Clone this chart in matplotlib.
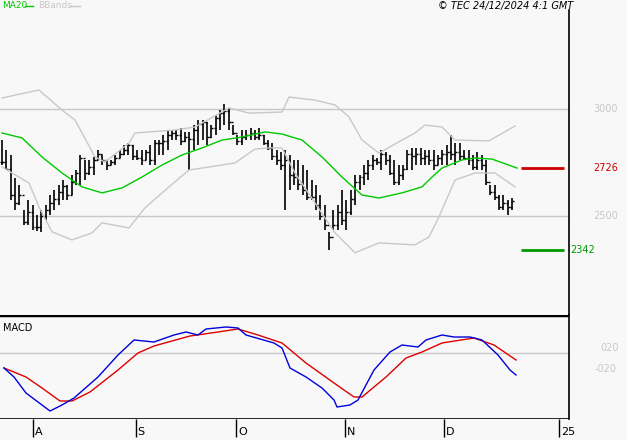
import numpy as np
import matplotlib
matplotlib.use("Agg")
import matplotlib.pyplot as plt
from matplotlib.lines import Line2D
from matplotlib.transforms import blended_transform_factory as btf

# ---- data ----
high = [2855,2809,2785,2678,2645,2528,2575,2552,2505,2528,2552,2598,2622,2645,2668,2645,2692,2715,2785,2762,
        2762,2776,2809,2785,2762,2762,2785,2809,2832,2841,2832,2809,2809,2809,2832,2855,2855,2879,2902,2902,
        2902,2911,2893,2893,2925,2949,2949,2939,2925,2972,2995,3023,3005,2925,2879,2902,2902,2911,2902,2911,
        2879,2855,2841,2809,2799,2809,2785,2762,2762,2738,2715,2668,2645,2598,2552,2426,2528,2552,2622,2575,
        2622,2692,2692,2738,2762,2785,2771,2809,2799,2785,2762,2738,2738,2809,2818,2818,2818,2809,2809,2809,
        2785,2809,2832,2879,2841,2841,2809,2809,2785,2799,2785,2762,2645,2645,2598,2598,2575,2584]
low = [2738,2715,2575,2528,2552,2458,2458,2435,2430,2426,2482,2505,2528,2552,2575,2575,2598,2645,2645,2668,
       2692,2692,2762,2738,2715,2738,2738,2771,2785,2785,2762,2762,2738,2762,2738,2738,2785,2785,2809,2855,
       2855,2832,2846,2715,2809,2832,2855,2832,2865,2879,2902,2925,2902,2879,2832,2832,2855,2855,2855,2855,
       2832,2809,2762,2738,2715,2528,2622,2645,2622,2598,2575,2575,2528,2482,2435,2342,2435,2435,2458,2435,
       2505,2552,2622,2645,2668,2715,2738,2715,2738,2692,2645,2645,2668,2715,2715,2738,2738,2738,2738,2715,
       2738,2738,2738,2762,2738,2762,2762,2738,2715,2715,2715,2645,2598,2575,2528,2528,2505,2528]
close = [2750,2720,2600,2560,2600,2470,2520,2450,2450,2500,2530,2560,2580,2610,2640,2600,2660,2700,2770,2700,
         2730,2760,2790,2760,2740,2750,2770,2790,2810,2830,2780,2770,2760,2800,2760,2840,2840,2850,2880,2890,
         2880,2850,2870,2860,2900,2930,2940,2870,2910,2960,2980,2990,2940,2890,2850,2870,2880,2890,2870,2880,
         2840,2820,2780,2760,2740,2760,2690,2680,2650,2620,2590,2590,2550,2500,2460,2400,2460,2520,2480,2520,
         2580,2660,2680,2700,2740,2760,2750,2790,2760,2700,2660,2690,2720,2790,2780,2790,2770,2780,2760,2740,
         2770,2790,2800,2790,2800,2780,2770,2760,2730,2760,2740,2660,2610,2590,2540,2560,2540,2570]

BAR_PX = 4.36
ma_px = [0,20,40,60,80,100,120,140,160,180,200,220,240,263,280,300,320,340,360,377,400,420,430,440,460,473,490,515]
ma20 = [2888,2865,2776,2701,2636,2608,2631,2682,2738,2785,2818,2855,2869,2893,2883,2855,2776,2682,2598,2584,
        2608,2636,2682,2724,2762,2771,2766,2724]
up_px = [0,13,37,60,73,93,103,127,133,173,193,227,247,280,287,313,333,347,360,377,400,413,423,440,453,487,513]
upper = [3051,3065,3089,2995,2949,2776,2752,2841,2888,2902,2916,3005,2981,2986,3056,3042,3019,2963,2855,2794,
         2855,2888,2925,2916,2855,2851,2921]
lo_px = [0,27,37,50,70,90,100,127,143,167,187,207,233,253,267,280,293,313,333,353,377,413,427,437,453,473,493,513]
lower = [2729,2654,2542,2426,2388,2421,2468,2444,2538,2636,2715,2729,2748,2813,2818,2818,2701,2561,2421,2328,
         2374,2365,2402,2496,2668,2701,2701,2636]
macd_px = [2,12,24,36,48,60,72,96,116,132,152,172,184,196,204,224,236,244,272,280,288,304,320,332,335,348,356,
           372,388,400,416,424,440,452,468,480,496,508,514]
macd = [-0.175,-0.4,-0.8,-1.025,-1.25,-1.1,-0.925,-0.4,0.15,0.525,0.475,0.65,0.725,0.65,0.8,0.85,0.825,0.65,0.45,
        0.325,-0.175,-0.4,-0.675,-0.975,-1.15,-1.1,-0.975,-0.225,0.225,0.4,0.35,0.525,0.65,0.6,0.6,0.525,0.15,
        -0.225,-0.35]
sig_px = [2,24,40,58,70,88,116,136,152,188,216,236,256,280,304,332,352,360,384,404,420,440,472,492,514]
signal = [-0.175,-0.4,-0.675,-1.0,-1.0,-0.775,-0.225,0.2,0.375,0.625,0.725,0.8,0.65,0.45,-0.05,-0.55,-0.9,-0.9,
          -0.4,0.075,0.225,0.45,0.575,0.4,0.025]
resist, support = 2726, 2342
month_labels = ["A", "S", "O", "N", "D", "25"]
month_pos = [7.1, 30.7, 53.7, 78.7, 101.4, 127.8]

BG = "#f8f8f8"
fig = plt.figure(figsize=(6.27, 4.4), dpi=100, facecolor=BG)
W, H = 627, 440
ax = fig.add_axes([0, (440-315)/H, 569/W, 305/H], facecolor=BG)
ax2 = fig.add_axes([0, 21/H, 569/W, 104/H], facecolor=BG)
x0 = -2/BAR_PX
x1 = 567/BAR_PX
for a in (ax, ax2):
    a.set_xlim(x0, x1)
    for s in a.spines.values():
        s.set_visible(False)
    a.set_yticks([]); a.set_xticks([])

ax.set_ylim(2037, 3463)
ax.axhline(3000, color="#c8c8c8", lw=1)
ax.axhline(2500, color="#c8c8c8", lw=1)
idx = np.arange(len(close))
opens = [close[0]] + close[:-1]
ax.vlines(idx, low, high, color="black", lw=1.2)
ax.hlines(opens, idx-0.45, idx, color="black", lw=1)
ax.hlines(close, idx, idx+0.45, color="black", lw=1)
ax.plot(np.array(ma_px)/BAR_PX, ma20, color="#00c800", lw=1)
ax.plot(np.array(up_px)/BAR_PX, upper, color="#c8c8c8", lw=1)
ax.plot(np.array(lo_px)/BAR_PX, lower, color="#c8c8c8", lw=1)
ax.hlines(resist, 519/BAR_PX, 562/BAR_PX, color="#cc0000", lw=2)
ax.hlines(support, 519/BAR_PX, 562/BAR_PX, color="#009900", lw=2)
ax.axvline(x1, color="black", lw=1.2, clip_on=False)
fs = 7
tr = btf(fig.transFigure, ax.transData)
ax.text(593/W, 3000, "3000", transform=tr, color="#c8c8c8", fontsize=fs, va="center")
ax.text(593/W, 2500, "2500", transform=tr, color="#c8c8c8", fontsize=fs, va="center")
ax.text(593/W, resist, "2726", transform=tr, color="#cc0000", fontsize=fs, va="center")
ax.text(570/W, support, "2342", transform=tr, color="#009900", fontsize=fs, va="center")

ax2.set_ylim(-1.45, 1.15)
ax2.axhline(0.2, color="#c8c8c8", lw=1)
ax2.plot(np.array(sig_px)/BAR_PX, signal, color="#dd0000", lw=1)
ax2.plot(np.array(macd_px)/BAR_PX, macd, color="#0000dd", lw=1)
ax2.axvline(x1, color="black", lw=1.2, clip_on=False)
ax2.axhline(1.15, color="black", lw=2.5)
ax2.axhline(-1.45, color="black", lw=1.2)
ax2.text(3/W, 1-328/H, "MACD", transform=fig.transFigure, fontsize=fs, va="center")
tr2 = btf(fig.transFigure, ax2.transData)
ax2.text(600/W, 0.32, "020", transform=tr2, color="#c8c8c8", fontsize=fs, va="center")
ax2.text(595/W, -0.2, "-020", transform=tr2, color="#c8c8c8", fontsize=fs, va="center")
ax2.set_xticks(month_pos)
ax2.set_xticklabels([""]*len(month_pos))
ax2.tick_params(axis="x", length=13, width=1, color="black", direction="out")
for p, l in zip(month_pos, month_labels):
    ax2.text(p + 0.4, 1-432/H, l, transform=btf(ax2.transData, fig.transFigure), fontsize=8, va="center")

fig.text(2/W, 1-6/H, "MA20", color="#00c800", fontsize=6.5, va="center")
fig.add_artist(Line2D([25/W, 33/W], [1-6/H]*2, color="#00c800", lw=1))
fig.text(38/W, 1-6/H, "BBands", color="#c8c8c8", fontsize=6.5, va="center")
fig.add_artist(Line2D([70/W, 80/W], [1-6/H]*2, color="#c8c8c8", lw=1))
fig.text(573/W, 1-6/H, "© TEC 24/12/2024 4:1 GMT", fontsize=fs, style="italic", ha="right", va="center")
fig.savefig("out.png", dpi=100, facecolor=BG)
